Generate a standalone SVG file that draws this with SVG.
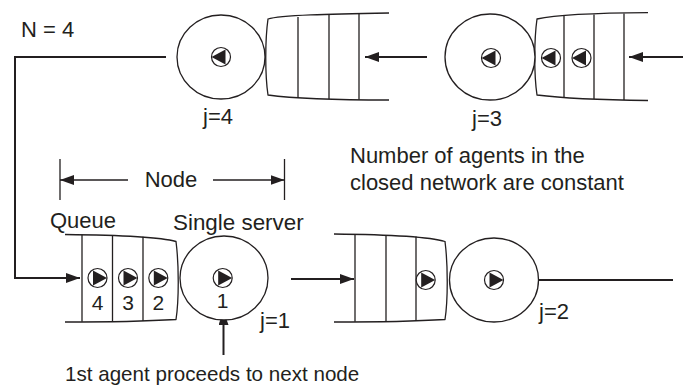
<svg xmlns="http://www.w3.org/2000/svg" width="683" height="388" viewBox="0 0 683 388">
<style>
text{font-family:"Liberation Sans",Arial,sans-serif;font-size:22px;fill:#231f20}
.o{fill:none;stroke:#231f20;stroke-width:1.3}
.srv{fill:#fff;stroke:#231f20;stroke-width:1.3}
.c{fill:none;stroke:#231f20;stroke-width:2}
.d{font-size:21px}
</style>
<defs>
<marker id="ah" viewBox="0 0 14 10" refX="14" refY="5" markerWidth="14" markerHeight="10" markerUnits="userSpaceOnUse" orient="auto">
<path d="M0,0 L14,5 L0,10 Z" fill="#231f20"/>
</marker>
<g id="agR">
<circle r="9.5" fill="#fff" stroke="#231f20" stroke-width="1.2"/>
<path d="M-4.5,-7.5 L9.5,0 L-4.5,7.5 Z" fill="#231f20"/>
</g>
<g id="agL">
<circle r="9.5" fill="#fff" stroke="#231f20" stroke-width="1.2"/>
<path d="M4.5,-7.5 L-9.5,0 L4.5,7.5 Z" fill="#231f20"/>
</g>
</defs>

<g id="connectors">
<polyline class="c" points="166,57 15,57 15,278 80,278" marker-end="url(#ah)"/>
<line class="c" x1="427" y1="57" x2="365" y2="57" marker-end="url(#ah)"/>
<line class="c" x1="683" y1="57" x2="629" y2="57" marker-end="url(#ah)"/>
<line class="c" x1="291" y1="279" x2="354" y2="279" marker-end="url(#ah)"/>
<line class="c" x1="539" y1="280" x2="673" y2="280"/>
<line class="c" x1="223.5" y1="355" x2="223.5" y2="311" marker-end="url(#ah)"/>
</g>

<g id="node-j4">
<path class="o" d="M389,13 C330,14 280,15 268,19 C265,40 265,75 268,95 C290,98 340,100 389,100"/>
<line class="o" x1="298" y1="17" x2="298" y2="97.5"/>
<line class="o" x1="329" y1="15" x2="329" y2="99"/>
<line class="o" x1="359" y1="13.8" x2="359" y2="99.6"/>
<ellipse class="srv" cx="221" cy="57" rx="44" ry="42"/>
<use href="#agL" x="221" y="57"/>
<text x="203" y="124">j=4</text>
</g>

<g id="node-j3">
<path class="o" d="M648,12.7 C600,13 560,14 537,19 C534,40 534,75 537,95 C560,98 600,100 648,100.5"/>
<line class="o" x1="564" y1="15.8" x2="564" y2="97.8"/>
<line class="o" x1="594" y1="14.5" x2="594" y2="99"/>
<line class="o" x1="624" y1="13.5" x2="624" y2="100"/>
<ellipse class="srv" cx="490" cy="57" rx="45" ry="43"/>
<use href="#agL" x="491" y="58"/>
<use href="#agL" x="551" y="58"/>
<use href="#agL" x="581.5" y="58"/>
<text x="472" y="126">j=3</text>
</g>

<g id="node-j1">
<path class="o" d="M65,234.5 C110,235 160,237 176,241.5 C179,265 179,300 176,319.5 C150,321 100,322 65,322"/>
<line class="o" x1="82" y1="234.7" x2="82" y2="321.8"/>
<line class="o" x1="112.5" y1="235.3" x2="112.5" y2="321.5"/>
<line class="o" x1="143" y1="236.8" x2="143" y2="321"/>
<ellipse class="srv" cx="224" cy="278" rx="44" ry="42"/>
<use href="#agR" x="97.5" y="278"/>
<use href="#agR" x="128" y="278"/>
<use href="#agR" x="158.3" y="278"/>
<use href="#agR" x="222.7" y="278"/>
<text class="d" x="97.5" y="310" text-anchor="middle">4</text>
<text class="d" x="128" y="310" text-anchor="middle">3</text>
<text class="d" x="158.3" y="310" text-anchor="middle">2</text>
<text class="d" x="222.7" y="308" text-anchor="middle">1</text>
<text x="260" y="328">j=1</text>
</g>

<g id="node-j2">
<path class="o" d="M334,234 C380,234.5 430,237 445,241.5 C448,265 448,300 445,319.5 C420,321 370,322 334,322"/>
<line class="o" x1="355" y1="234.2" x2="355" y2="321.8"/>
<line class="o" x1="386" y1="235" x2="386" y2="321.5"/>
<line class="o" x1="416" y1="236.5" x2="416" y2="321"/>
<ellipse class="srv" cx="494" cy="280" rx="44.5" ry="42"/>
<use href="#agR" x="425.7" y="280"/>
<use href="#agR" x="494" y="280"/>
<text x="539" y="319">j=2</text>
</g>

<g id="node-dimension">
<line class="o" x1="60" y1="159" x2="60" y2="200"/>
<line class="o" x1="284.5" y1="159" x2="284.5" y2="200"/>
<line class="o" x1="128" y1="180" x2="60" y2="180" marker-end="url(#ah)"/>
<line class="o" x1="213" y1="180" x2="284.5" y2="180" marker-end="url(#ah)"/>
<text x="171" y="187" text-anchor="middle">Node</text>
</g>

<g id="labels">
<text x="21" y="37">N = 4</text>
<text x="50" y="228">Queue</text>
<text x="173" y="230" style="font-size:22.4px">Single server</text>
<text x="350" y="163">Number of agents in the</text>
<text x="350" y="190">closed network are constant</text>
<text x="65" y="381" style="font-size:20.6px">1st agent proceeds to next node</text>
</g>
</svg>
